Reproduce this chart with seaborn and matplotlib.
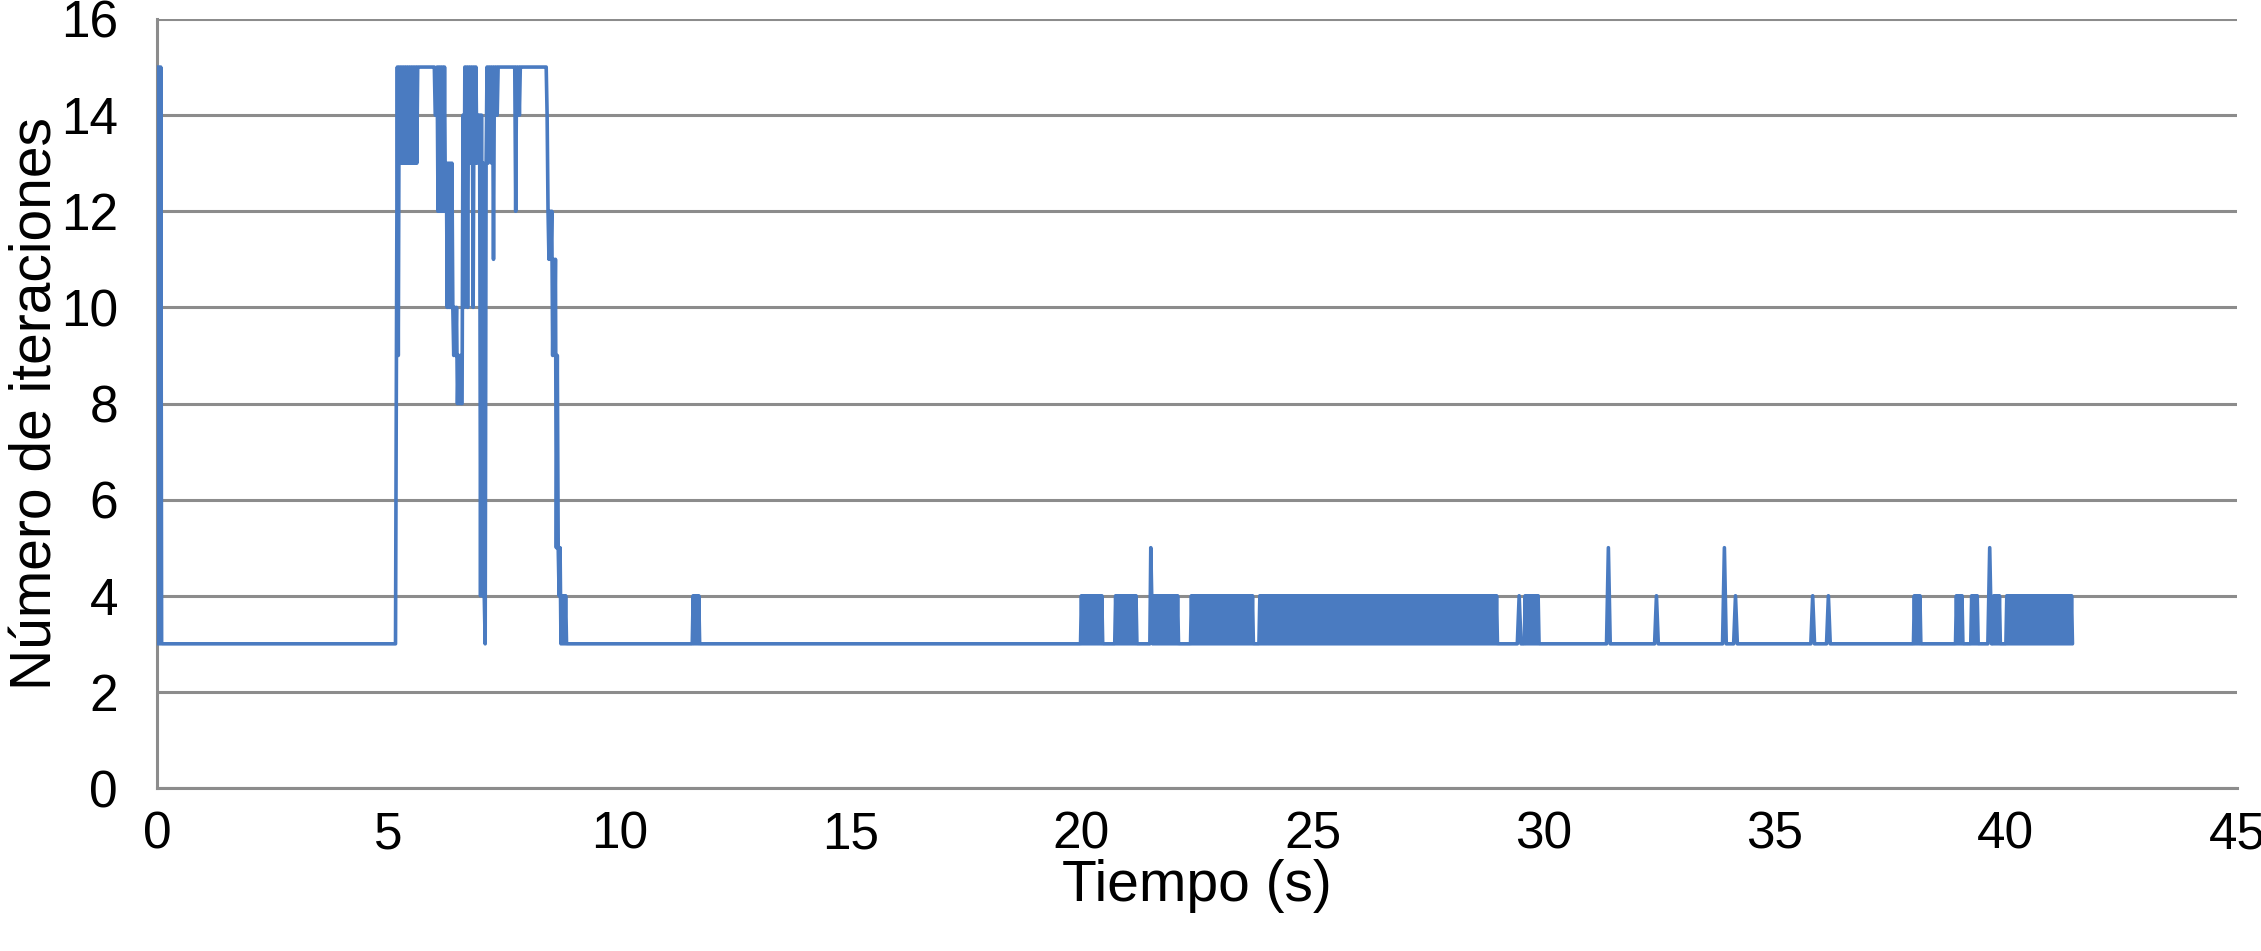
import matplotlib
matplotlib.use("Agg")
import matplotlib.pyplot as plt
import numpy as np
import pandas as pd
import seaborn as sns

# ---------------- data ----------------
# Each burst: start time (s), sampling step (s) and the iteration count of
# consecutive samples written as hex digits (a=10 ... f=15).
# Between bursts the series stays flat at 3 iterations.
burst_start = [0.00, 5.16, 11.58, 19.98, 20.72, 21.48, 22.36, 23.84,
               29.43, 29.58, 31.36, 32.40, 33.87, 34.11, 35.78, 36.12,
               38.00, 38.91, 39.24, 39.61, 39.72, 40.00]
burst_step = [0.02, 0.02, 0.02, 0.02, 0.02, 0.02, 0.02, 0.02,
              0.04, 0.02, 0.04, 0.04, 0.04, 0.04, 0.04, 0.04,
              0.02, 0.02, 0.02, 0.04, 0.02, 0.02]
burst_codes = [
    "f3f3f3",
    ("39f9f" "dfdfdfdfdfdfdfdfdfdf" "ffffffffff" "ffffffff" "eef"
     "cfcfcfcfc" "dadadada" "9a9a" "898988" "ea" "fdfafdfdfafdfdeee"
     "4e4d43d" "fdfefdfbfefef" "ffffffffff" "ffffffff" "cfefef"
     "ffffffffff" "ffffffffff" "fffffff" "fecbcbc9b9b595453434343"),
    "343434343",
    ("3434343434" "3434343434" "34343"),
    ("3434343434" "3434343434" "34343"),
    ("3543434343" "4343434343" "4343434343" "43"),
    ("3434343434" "3434343434" "3434343434" "3434343434"
     "3434343434" "3434343434" "343434343"),
    ("3434343434" "3434343434" "3434343434" "3434343434" "3434343434"
     "3434343434" "3434343434" "3434343434" "3434343434" "3434343434"
     "3434343434" "3434343434" "3434343434" "3434343434" "3434343434"
     "3434343434" "3434343434" "3434343434" "3434343434" "3434343434"
     "3434343434" "3434343434" "3434343434" "3434343434" "3434343434"
     "343434343"),
    "343",
    ("3434343434" "3434343"),
    "353",
    "343",
    "353",
    "343",
    "343",
    "343",
    "343434343",
    "343434343",
    "343434343",
    "353",
    "343434343",
    ("3434343434" "3434343434" "3434343434" "3434343434"
     "3434343434" "3434343434" "3434343434" "343"),
]
x_ticks = [0, 5, 10, 15, 20, 25, 30, 35, 40, 45]
y_ticks = [0, 2, 4, 6, 8, 10, 12, 14, 16]
x_label = "Tiempo (s)"
y_label = "Número de iteraciones"

# ---------------- build table ----------------
times, iters = [], []
for start, step, code in zip(burst_start, burst_step, burst_codes):
    for i, c in enumerate(code):
        times.append(round(start + i * step, 4))
        iters.append(int(c, 16))
df = pd.DataFrame({"t": times, "n": iters})

# ---------------- style ----------------
sns.set_theme(style="white")
plt.rcParams["font.family"] = ["Liberation Sans", "DejaVu Sans"]
plt.rcParams["path.simplify"] = False

BLUE = "#4A7BC1"
GRAY = "#8c8c8c"

W, H = 2261, 951
fig = plt.figure(figsize=(W / 100, H / 100), dpi=100)
ax = fig.add_axes([157 / W, 1 - 788 / H, 2080 / W, 769 / H])

sns.lineplot(data=df, x="t", y="n", ax=ax, color=BLUE, linewidth=2.6,
             estimator=None, sort=False, zorder=3)

ax.set_xlim(0, 45)
ax.set_ylim(0, 16)
ax.set_xticks(x_ticks)
ax.set_yticks(y_ticks)
ax.yaxis.grid(True, color=GRAY, linewidth=2.2)
ax.xaxis.grid(False)
ax.set_axisbelow(True)

for s in ["top", "right"]:
    ax.spines[s].set_visible(False)
for s in ["left", "bottom"]:
    ax.spines[s].set_color(GRAY)
    ax.spines[s].set_linewidth(2.2)

ax.tick_params(axis="both", direction="out", length=11, width=2.2,
               color=GRAY, labelsize=37, labelcolor="black")
ax.tick_params(axis="y", pad=17)
ax.tick_params(axis="x", pad=5)

ax.set_xlabel(x_label, fontsize=41, color="black")
ax.set_ylabel(y_label, fontsize=41, color="black")
ax.xaxis.set_label_coords(0.5, -0.092)
ax.yaxis.set_label_coords(-0.045, 0.5)

fig.savefig("out.png", dpi=100)
